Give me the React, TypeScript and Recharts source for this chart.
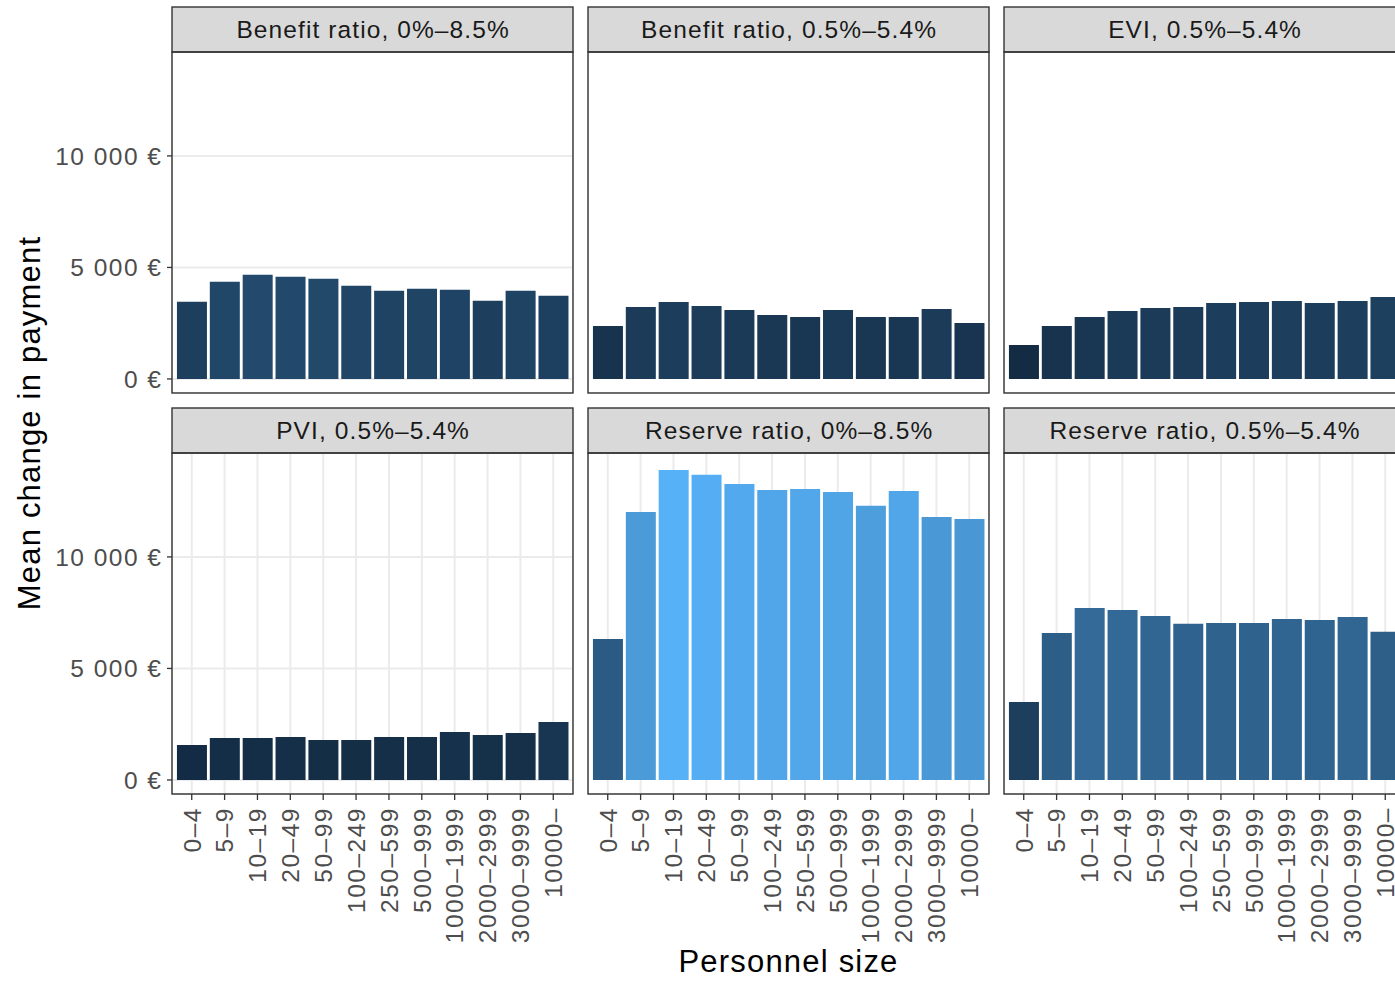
import React from 'react';
import { BarChart, Bar, XAxis, YAxis, CartesianGrid, Cell } from 'recharts';

// Personnel size classes (x categories)
const sizeClasses = ['0–4', '5–9', '10–19', '20–49', '50–99', '100–249', '250–599', '500–999', '1000–1999', '2000–2999', '3000–9999', '10000–'];

// Mean change in payment (€) per size class, one array per scenario
const benefitWide = [3460, 4360, 4675, 4585, 4495, 4180, 3955, 4045, 4000, 3510, 3955, 3730];
const benefitNarrow = [2375, 3225, 3450, 3270, 3090, 2865, 2780, 3090, 2780, 2780, 3135, 2510];
const eviNarrow = [1525, 2375, 2780, 3045, 3180, 3225, 3405, 3450, 3495, 3405, 3495, 3675];
const pviNarrow = [1570, 1880, 1880, 1925, 1790, 1790, 1925, 1925, 2150, 2015, 2105, 2600];
const reserveWide = [6320, 12020, 13900, 13680, 13270, 13000, 13050, 12915, 12290, 12960, 11790, 11700];
const reserveNarrow = [3500, 6590, 7710, 7620, 7350, 7000, 7040, 7040, 7220, 7175, 7310, 6640];

// Facet strip titles
const facetTitles = [
  'Benefit ratio, 0%–8.5%',
  'Benefit ratio, 0.5%–5.4%',
  'EVI, 0.5%–5.4%',
  'PVI, 0.5%–5.4%',
  'Reserve ratio, 0%–8.5%',
  'Reserve ratio, 0.5%–5.4%',
];
const facetValues = [benefitWide, benefitNarrow, eviNarrow, pviNarrow, reserveWide, reserveNarrow];

// Y axis ticks and labels
const yTicks = [0, 5000, 10000];
const yTickLabels = ['0 €', '5 000 €', '10 000 €'];
const yDomain: [number, number] = [-630, 14660];

const xTitle = 'Personnel size';
const yTitle = 'Mean change in payment';

// Layout
const FONT = '"Liberation Sans", Arial, Helvetica, sans-serif';
const PANEL_W = 401;
const PANEL_H = 341;
const STRIP_H = 45;
const colX = [172, 588, 1004];
const stripY = [7, 408];
const Y_AXIS_W = 132;
const X_AXIS_H = 170;

// Continuous fill scale (low -> high) interpolated in CIE Lab
const LOW = '#132B43';
const HIGH = '#56B1F7';

const toLin = (c: number) => {
  const v = c / 255;
  return v <= 0.04045 ? v / 12.92 : Math.pow((v + 0.055) / 1.055, 2.4);
};
const fromLin = (c: number) => {
  const v = c <= 0.0031308 ? 12.92 * c : 1.055 * Math.pow(c, 1 / 2.4) - 0.055;
  return Math.round(Math.max(0, Math.min(1, v)) * 255);
};
const Xn = 0.95047, Yn = 1.0, Zn = 1.08883;
const fLab = (t: number) => (t > 0.008856 ? Math.cbrt(t) : 7.787 * t + 16 / 116);
const fLabInv = (t: number) => (t > 0.206893 ? t * t * t : (t - 16 / 116) / 7.787);

function hexToLab(hex: string) {
  const r = toLin(parseInt(hex.slice(1, 3), 16));
  const g = toLin(parseInt(hex.slice(3, 5), 16));
  const b = toLin(parseInt(hex.slice(5, 7), 16));
  const X = 0.4124564 * r + 0.3575761 * g + 0.1804375 * b;
  const Y = 0.2126729 * r + 0.7151522 * g + 0.072175 * b;
  const Z = 0.0193339 * r + 0.119192 * g + 0.9503041 * b;
  const fx = fLab(X / Xn), fy = fLab(Y / Yn), fz = fLab(Z / Zn);
  return [116 * fy - 16, 500 * (fx - fy), 200 * (fy - fz)];
}

function labToHex(L: number, a: number, bb: number) {
  const fy = (L + 16) / 116;
  const fx = fy + a / 500;
  const fz = fy - bb / 200;
  const X = Xn * fLabInv(fx), Y = Yn * fLabInv(fy), Z = Zn * fLabInv(fz);
  const r = 3.2404542 * X - 1.5371385 * Y - 0.4985314 * Z;
  const g = -0.969266 * X + 1.8760108 * Y + 0.041556 * Z;
  const b = 0.0556434 * X - 0.2040259 * Y + 1.0572252 * Z;
  const h = (n: number) => fromLin(n).toString(16).padStart(2, '0');
  return '#' + h(r) + h(g) + h(b);
}

const lowLab = hexToLab(LOW);
const highLab = hexToLab(HIGH);
const allValues = facetValues.flat();
const vMin = Math.min(...allValues);
const vMax = Math.max(...allValues);
const fillFor = (v: number) => {
  const t = (v - vMin) / (vMax - vMin);
  return labToHex(
    lowLab[0] + (highLab[0] - lowLab[0]) * t,
    lowLab[1] + (highLab[1] - lowLab[1]) * t,
    lowLab[2] + (highLab[2] - lowLab[2]) * t
  );
};

const tickLabelFor = (v: number) => yTickLabels[yTicks.indexOf(v)] ?? String(v);

const YTick = (props: any) => {
  const { x, y, payload } = props;
  return (
    <text x={x} y={y} dy="0.355em" textAnchor="end" fill="#4D4D4D" fontSize={24.5} letterSpacing={1.5} fontFamily={FONT}>
      {tickLabelFor(payload.value)}
    </text>
  );
};

const XTick = (props: any) => {
  const { x, y, payload } = props;
  return (
    <text
      x={x}
      y={y}
      dy="0.36em"
      transform={`rotate(-90, ${x}, ${y})`}
      textAnchor="end"
      fill="#4D4D4D"
      fontSize={24.5}
      letterSpacing={1.5}
      fontFamily={FONT}
    >
      {payload.value}
    </text>
  );
};

function Panel({ index }: { index: number }) {
  const col = index % 3;
  const row = Math.floor(index / 3);
  const values = facetValues[index];
  const data = sizeClasses.map((size, i) => ({ size, value: values[i] }));
  const showY = col === 0;
  const showX = row === 1;
  const yW = showY ? Y_AXIS_W : 0;
  const xH = showX ? X_AXIS_H : 0;
  const left = colX[col] - yW;
  const top = stripY[row] + STRIP_H;
  return (
    <div style={{ position: 'absolute', left, top }}>
      <BarChart
        width={PANEL_W + yW}
        height={PANEL_H + xH}
        data={data}
        margin={{ top: 0, right: 0, bottom: 0, left: 0 }}
        barCategoryGap="5%"
      >
        <CartesianGrid stroke="#EBEBEB" strokeWidth={2} />
        <XAxis
          dataKey="size"
          type="category"
          interval={0}
          padding={{ left: 3.3, right: 3.3 }}
          height={xH}
          axisLine={false}
          tickLine={showX ? { stroke: '#333333', strokeWidth: 1.3 } : false}
          tickSize={6}
          tickMargin={7}
          tick={showX ? <XTick /> : false}
        />
        <YAxis
          type="number"
          domain={yDomain}
          allowDataOverflow
          ticks={yTicks}
          interval={0}
          width={yW}
          axisLine={false}
          tickLine={showY ? { stroke: '#333333', strokeWidth: 1.3 } : false}
          tickSize={5}
          tickMargin={4.5}
          tick={showY ? <YTick /> : false}
        />
        <Bar dataKey="value" isAnimationActive={false}>
          {data.map((d, i) => (
            <Cell key={i} fill={fillFor(d.value)} />
          ))}
        </Bar>
      </BarChart>
    </div>
  );
}

export default function App() {
  return (
    <div
      style={{
        position: 'absolute',
        left: 0,
        top: 0,
        width: 1395,
        height: 981,
        overflow: 'hidden',
        background: '#FFFFFF',
      }}
    >
      {facetTitles.map((_, i) => (
        <Panel key={i} index={i} />
      ))}
      <svg
        width={1395}
        height={981}
        style={{ position: 'absolute', left: 0, top: 0, pointerEvents: 'none' }}
      >
        {facetTitles.map((title, i) => {
          const col = i % 3;
          const row = Math.floor(i / 3);
          const x = colX[col];
          const y = stripY[row];
          return (
            <g key={i}>
              <rect x={x} y={y} width={PANEL_W} height={STRIP_H} fill="#D9D9D9" stroke="#333333" strokeWidth={1.4} />
              <text
                x={x + PANEL_W / 2 + 0.6}
                y={y + STRIP_H / 2}
                dy="0.355em"
                textAnchor="middle"
                fill="#1A1A1A"
                fontSize={24.5}
                letterSpacing={1.1}
                fontFamily={FONT}
              >
                {title}
              </text>
              <rect x={x} y={y + STRIP_H} width={PANEL_W} height={PANEL_H} fill="none" stroke="#333333" strokeWidth={1.4} />
            </g>
          );
        })}
        <text
          x={788.5}
          y={972}
          textAnchor="middle"
          fill="#000000"
          fontSize={31}
          letterSpacing={1.2}
          fontFamily={FONT}
        >
          {xTitle}
        </text>
        <text
          x={40}
          y={423}
          transform="rotate(-90, 40, 423)"
          textAnchor="middle"
          fill="#000000"
          fontSize={31}
          letterSpacing={1.2}
          fontFamily={FONT}
        >
          {yTitle}
        </text>
      </svg>
    </div>
  );
}
